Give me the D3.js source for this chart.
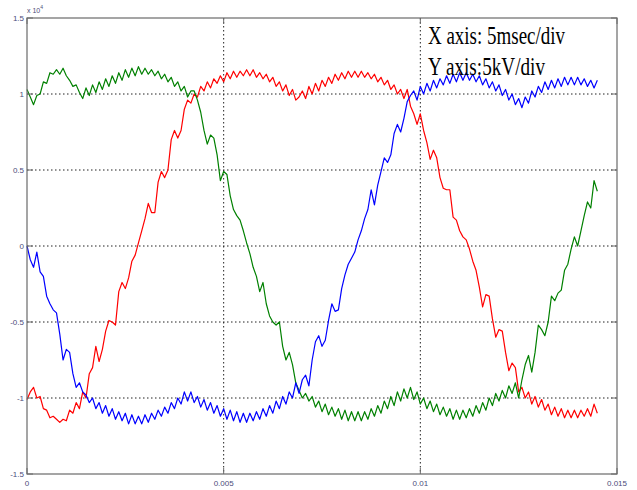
<!DOCTYPE html>
<html>
<head>
<meta charset="utf-8">
<script src="https://cdn.jsdelivr.net/npm/d3@7"></script>
<style>
  body { margin: 0; background: #fff; }
  svg { display: block; }
</style>
</head>
<body>
<svg id="chart"></svg>
<script>
// sample step of the recorded waveforms (seconds)
const sampleStep = 1 / 12000;

const redPhase = [
  -1.01, -0.96, -0.93, -1.0, -0.99, -1.07, -1.08, -1.13, -1.12, -1.14,
  -1.16, -1.14, -1.15, -1.08, -1.1, -1.03, -1.07, -0.96, -1.0, -0.84,
  -0.8, -0.66, -0.76, -0.68, -0.56, -0.49, -0.5, -0.52, -0.3, -0.24,
  -0.28, -0.21, -0.1, -0.06, 0.02, 0.1, 0.18, 0.28, 0.22, 0.22,
  0.42, 0.49, 0.45, 0.5, 0.7, 0.76, 0.71, 0.76, 0.9, 0.96,
  0.94, 1.0, 0.98, 1.05, 1.02, 1.08, 1.04, 1.1, 1.07, 1.12,
  1.08, 1.14, 1.1, 1.15, 1.11, 1.15, 1.12, 1.16, 1.12, 1.16,
  1.11, 1.14, 1.1, 1.13, 1.08, 1.11, 1.05, 1.08, 1.02, 1.06,
  0.99, 1.03, 0.96, 0.98, 1.02, 0.97, 1.05, 1.0, 1.07, 1.02,
  1.09, 1.05, 1.11, 1.07, 1.13, 1.09, 1.14, 1.1, 1.15, 1.11,
  1.15, 1.11, 1.15, 1.11, 1.14, 1.1, 1.13, 1.08, 1.11, 1.06,
  1.09, 1.03, 1.06, 1.0, 1.03, 0.97, 1.03, 0.92, 0.87, 0.8,
  0.87, 0.76, 0.68, 0.57, 0.63, 0.58, 0.45, 0.38, 0.37, 0.37,
  0.19, 0.17, 0.1, 0.06, 0.04, -0.02, -0.1, -0.16, -0.27, -0.4,
  -0.32, -0.33, -0.48, -0.6, -0.55, -0.56, -0.7, -0.82, -0.77, -0.8,
  -0.96, -0.93, -1.0, -0.96, -1.04, -0.99, -1.06, -1.01, -1.08, -1.04,
  -1.11, -1.06, -1.12, -1.07, -1.13, -1.08, -1.13, -1.08, -1.13, -1.08,
  -1.12, -1.07, -1.12, -1.04, -1.1
];

const greenPhase = [
  1.03, 0.98, 0.93, 0.99, 1.0, 1.08, 1.07, 1.14, 1.13, 1.16,
  1.13, 1.17, 1.12, 1.09, 1.05, 1.06, 1.01, 0.97, 1.04, 0.99,
  1.06, 1.01, 1.08, 1.03, 1.1, 1.05, 1.12, 1.07, 1.14, 1.09,
  1.16, 1.11, 1.17, 1.12, 1.18, 1.13, 1.17, 1.13, 1.16, 1.12,
  1.15, 1.1, 1.13, 1.08, 1.11, 1.05, 1.08, 1.02, 1.05, 0.98,
  1.02, 1.02, 0.96, 0.88, 0.76, 0.67, 0.73, 0.71, 0.6, 0.43,
  0.49, 0.47, 0.33, 0.24, 0.2, 0.17, 0.1, 0.02, -0.05, -0.14,
  -0.2, -0.3, -0.24, -0.38, -0.46, -0.5, -0.52, -0.5, -0.66, -0.75,
  -0.7, -0.78, -0.9, -0.95, -1.0, -0.97, -1.02, -0.99, -1.06, -1.02,
  -1.09, -1.04, -1.11, -1.06, -1.12, -1.07, -1.14, -1.08, -1.15, -1.09,
  -1.15, -1.09, -1.15, -1.09, -1.14, -1.07, -1.12, -1.05, -1.1, -1.02,
  -1.07, -0.99, -1.05, -0.96, -1.02, -0.94, -1.0, -0.93, -1.01, -0.96,
  -1.04, -1.0, -1.07, -1.02, -1.09, -1.04, -1.11, -1.06, -1.12, -1.07,
  -1.14, -1.08, -1.14, -1.08, -1.13, -1.07, -1.12, -1.05, -1.1, -1.03,
  -1.08, -1.0, -1.05, -0.97, -1.02, -0.95, -1.0, -0.92, -0.97, -0.9,
  -1.0, -0.88, -0.78, -0.72, -0.83, -0.7, -0.52, -0.55, -0.59, -0.5,
  -0.33, -0.36, -0.31, -0.29, -0.16, -0.12, -0.02, 0.06, 0.0, 0.1,
  0.2, 0.29, 0.25, 0.43, 0.36
];

const bluePhase = [
  0.0, -0.09, -0.14, -0.04, -0.17, -0.2, -0.33, -0.38, -0.42, -0.44,
  -0.58, -0.75, -0.68, -0.7, -0.84, -0.93, -0.9, -0.96, -0.98, -1.03,
  -1.0, -1.07, -1.03, -1.1, -1.05, -1.12, -1.07, -1.14, -1.09, -1.15,
  -1.1, -1.17, -1.11, -1.17, -1.12, -1.17, -1.11, -1.16, -1.1, -1.14,
  -1.08, -1.12, -1.06, -1.1, -1.03, -1.07, -1.0, -1.04, -0.96, -1.02,
  -0.96, -1.03, -0.99, -1.06, -1.01, -1.08, -1.03, -1.1, -1.05, -1.12,
  -1.07, -1.14, -1.08, -1.15, -1.09, -1.16, -1.1, -1.16, -1.1, -1.15,
  -1.09, -1.14, -1.07, -1.12, -1.05, -1.1, -1.02, -1.07, -0.99, -1.04,
  -0.96, -1.0, -0.9, -0.97, -0.88, -0.85, -0.92, -0.75, -0.63, -0.59,
  -0.66, -0.62, -0.49, -0.38, -0.43, -0.42, -0.28, -0.19, -0.12, -0.08,
  -0.04, 0.04, 0.1, 0.18, 0.24, 0.37, 0.27, 0.4, 0.49, 0.58,
  0.55, 0.6, 0.74, 0.8, 0.75, 0.84, 0.95, 0.99, 1.02, 0.96,
  1.05, 1.0, 1.07, 1.02, 1.09, 1.04, 1.1, 1.06, 1.12, 1.07,
  1.13, 1.08, 1.14, 1.09, 1.14, 1.09, 1.13, 1.08, 1.12, 1.06,
  1.1, 1.04, 1.08, 1.02, 1.06, 0.99, 1.03, 0.96, 1.0, 0.93,
  0.97, 0.91, 0.98, 0.94, 1.02, 0.98, 1.05, 1.01, 1.08, 1.03,
  1.09, 1.04, 1.1, 1.05, 1.11, 1.06, 1.11, 1.06, 1.11, 1.06,
  1.1, 1.05, 1.09, 1.04, 1.09
];

const xTicks = [0, 0.005, 0.01, 0.015];
const xTickLabels = ["0", "0.005", "0.01", "0.015"];
const yTicks = [-1.5, -1, -0.5, 0, 0.5, 1, 1.5];
const yTickLabels = ["-1.5", "-1", "-0.5", "0", "0.5", "1", "1.5"];
const xGrid = [0.005, 0.01];
const yGrid = [-1, -0.5, 0, 0.5, 1];

const notes = ["X axis: 5msec/div", "Y axis:5kV/div"];

const width = 637, height = 490;
const margin = {left: 27, top: 18, right: 20, bottom: 16};

const svg = d3.select("#chart")
    .attr("width", width)
    .attr("height", height);

svg.append("rect")
    .attr("width", width)
    .attr("height", height)
    .attr("fill", "#fff");

const x = d3.scaleLinear()
    .domain([0, 0.015])
    .range([margin.left, width - margin.right]);

const y = d3.scaleLinear()
    .domain([-1.5, 1.5])
    .range([height - margin.bottom, margin.top]);

const x0 = x.range()[0], x1 = x.range()[1];
const y0 = y.range()[1], y1 = y.range()[0];

// dotted grid
svg.append("g")
    .selectAll("line")
    .data(yGrid)
    .join("line")
    .attr("x1", x0).attr("x2", x1)
    .attr("y1", d => y(d)).attr("y2", d => y(d))
    .attr("stroke", "#222")
    .attr("stroke-width", 1)
    .attr("stroke-dasharray", "1.5,2.5");

svg.append("g")
    .selectAll("line")
    .data(xGrid)
    .join("line")
    .attr("x1", d => x(d)).attr("x2", d => x(d))
    .attr("y1", y0).attr("y2", y1)
    .attr("stroke", "#222")
    .attr("stroke-width", 1)
    .attr("stroke-dasharray", "1.5,2.5");

// waveforms
const line = d3.line()
    .x((d, i) => x(i * sampleStep))
    .y(d => y(d));

const series = [
    {values: redPhase, color: "#ff0000"},
    {values: greenPhase, color: "#008000"},
    {values: bluePhase, color: "#0000ff"}
];

svg.append("g")
    .selectAll("path")
    .data(series)
    .join("path")
    .attr("d", d => line(d.values))
    .attr("fill", "none")
    .attr("stroke", d => d.color)
    .attr("stroke-width", 1.2)
    .attr("stroke-linejoin", "round");

// axes box with inward ticks on all four sides
const tickLen = 6;
const axisColor = "#6a6a6a";

svg.append("rect")
    .attr("x", x0).attr("y", y0)
    .attr("width", x1 - x0).attr("height", y1 - y0)
    .attr("fill", "none")
    .attr("stroke", axisColor)
    .attr("stroke-width", 1.2);

const ticks = svg.append("g").attr("stroke", axisColor).attr("stroke-width", 1);
xTicks.forEach(t => {
    ticks.append("line").attr("x1", x(t)).attr("x2", x(t)).attr("y1", y1).attr("y2", y1 - tickLen);
    ticks.append("line").attr("x1", x(t)).attr("x2", x(t)).attr("y1", y0).attr("y2", y0 + tickLen);
});
yTicks.forEach(t => {
    ticks.append("line").attr("x1", x0).attr("x2", x0 + tickLen).attr("y1", y(t)).attr("y2", y(t));
    ticks.append("line").attr("x1", x1).attr("x2", x1 - tickLen).attr("y1", y(t)).attr("y2", y(t));
});

const labelColor = "#4c4c7a";
const labelFont = "Arial, 'Liberation Sans', sans-serif";

svg.append("g")
    .selectAll("text")
    .data(xTicks)
    .join("text")
    .attr("x", d => x(d))
    .attr("y", y1 + 12)
    .attr("text-anchor", "middle")
    .attr("font-family", labelFont)
    .attr("font-size", 8)
    .attr("fill", labelColor)
    .text((d, i) => xTickLabels[i]);

svg.append("g")
    .selectAll("text")
    .data(yTicks)
    .join("text")
    .attr("x", x0 - 3)
    .attr("y", d => y(d) + 3)
    .attr("text-anchor", "end")
    .attr("font-family", labelFont)
    .attr("font-size", 8)
    .attr("fill", labelColor)
    .text((d, i) => yTickLabels[i]);

// exponent label
const expo = svg.append("text")
    .attr("x", x0)
    .attr("y", 13)
    .attr("font-family", labelFont)
    .attr("font-size", 7)
    .attr("fill", labelColor);
expo.append("tspan").text("x 10");
expo.append("tspan").attr("dy", -4).attr("font-size", 5).text("4");

// annotation
svg.append("g")
    .selectAll("text")
    .data(notes)
    .join("text")
    .attr("x", 428)
    .attr("y", (d, i) => 44 + i * 31)
    .attr("font-family", "'Liberation Serif', 'Times New Roman', serif")
    .attr("font-size", 25)
    .attr("fill", "#000")
    .attr("textLength", (d, i) => i === 0 ? 137 : 117)
    .attr("lengthAdjust", "spacingAndGlyphs")
    .text(d => d);
</script>
</body>
</html>
